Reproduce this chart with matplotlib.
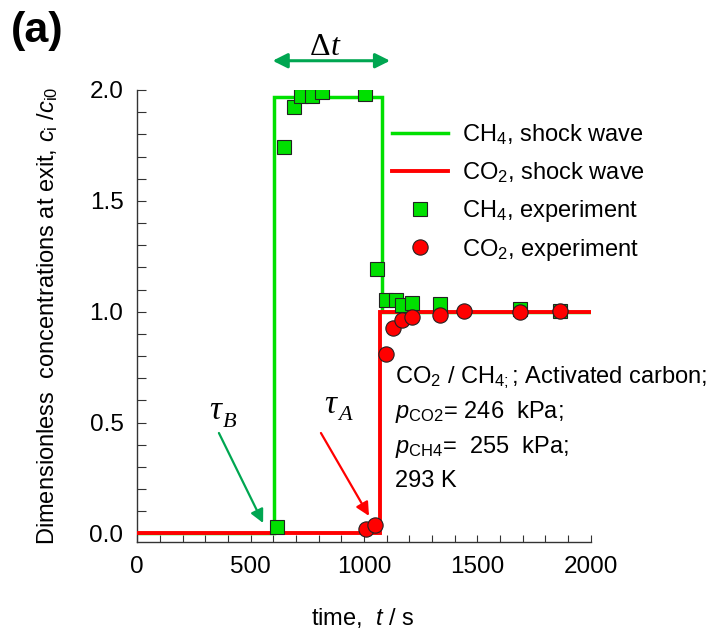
import matplotlib
matplotlib.use("Agg")
import matplotlib.pyplot as plt
from matplotlib.ticker import MultipleLocator

plt.rcParams['font.family'] = ['Liberation Sans', 'DejaVu Sans']
plt.rcParams['mathtext.fontset'] = 'custom'
plt.rcParams['mathtext.rm'] = 'Liberation Sans'
plt.rcParams['mathtext.it'] = 'Liberation Sans:italic'
plt.rcParams['mathtext.bf'] = 'Liberation Sans:bold'

# ---- data ----
ch4_sw_t = [0, 603, 603, 1078, 1078, 2000]
ch4_sw_y = [0.0, 0.0, 1.967, 1.967, 1.0, 1.0]
co2_sw_t = [0, 1072, 1072, 2000]
co2_sw_y = [0.0, 0.0, 1.0, 1.0]

ch4_exp_t = [615, 649, 693, 722, 772, 816, 1004, 1056, 1095, 1139, 1168, 1212, 1335, 1687, 1863]
ch4_exp_y = [0.028, 1.741, 1.922, 1.973, 1.973, 1.992, 1.982, 1.192, 1.052, 1.052, 1.029, 1.041, 1.037, 1.014, 1.002]
co2_exp_t = [1009, 1050, 1095, 1129, 1168, 1210, 1335, 1442, 1687, 1866]
co2_exp_y = [0.021, 0.036, 0.811, 0.927, 0.962, 0.977, 0.987, 1.002, 0.999, 1.002]

legend_labels = ['CH$_{4}$, shock wave', 'CO$_{2}$, shock wave',
                 'CH$_{4}$, experiment', 'CO$_{2}$, experiment']
info_lines = ['CO$_{2}$ / CH$_{4;}$; Activated carbon;',
              '$p_{\\mathrm{CO2}}$= 246  kPa;',
              '$p_{\\mathrm{CH4}}$=  255  kPa;',
              '293 K']

GREEN = '#00E000'
RED = '#FF0000'
DKGREEN = '#00A651'

W, H = 709, 633
fig = plt.figure(figsize=(W / 100, H / 100), dpi=100)
L, R, B, T = 137.3, 590.7, 542.3, 90.0
ax = fig.add_axes([L / W, 1 - B / H, (R - L) / W, (B - T) / H])

l1, = ax.plot(ch4_sw_t, ch4_sw_y, color=GREEN, lw=2.5, zorder=2, solid_joinstyle='miter')
l2, = ax.plot(co2_sw_t, co2_sw_y, color=RED, lw=2.8, zorder=3, solid_joinstyle='miter')
m1, = ax.plot(ch4_exp_t, ch4_exp_y, ls='none', marker='s', ms=9.5, mfc=GREEN,
              mec='#222222', mew=0.8, zorder=4)
m2, = ax.plot(co2_exp_t, co2_exp_y, ls='none', marker='o', ms=11, mfc=RED,
              mec='#222222', mew=0.8, zorder=5)

ax.set_xlim(0, 2000)
ax.set_ylim(-0.04, 2.0)
ax.spines['top'].set_visible(False)
ax.spines['right'].set_visible(False)
for s in ('left', 'bottom'):
    ax.spines[s].set_linewidth(1.0)
    ax.spines[s].set_color('#333333')

ax.xaxis.set_major_locator(MultipleLocator(500))
ax.xaxis.set_minor_locator(MultipleLocator(100))
ax.yaxis.set_major_locator(MultipleLocator(0.5))
ax.yaxis.set_minor_locator(MultipleLocator(0.1))
ax.set_yticks([0.0, 0.5, 1.0, 1.5, 2.0])
ax.set_yticklabels(['0.0', '0.5', '1.0', '1.5', '2.0'])
ax.tick_params(axis='x', which='both', direction='in', length=5, width=0.8,
               color='#333333', labelsize=17.5, pad=10)
ax.tick_params(axis='y', which='both', direction='in', length=6.5, width=0.8,
               color='#333333', labelsize=17.5, pad=10)

ax.set_xlabel('time,  $t$ / s', fontsize=17)
ax.xaxis.set_label_coords(0.498, (B - 618) / (B - T))
ax.xaxis.label.set_va('center')
ax.set_ylabel('Dimensionless  concentrations at exit, $c_{\\mathrm{i}}$ /$c_{\\mathrm{i0}}$', fontsize=17)
ax.yaxis.set_label_coords((48 - L) / (R - L), 0.5)
ax.yaxis.label.set_va('center')

leg = ax.legend([l1, l2, m1, m2], legend_labels, loc='upper left',
                bbox_to_anchor=(392 / W, 1 - 122 / H), bbox_transform=fig.transFigure,
                frameon=False, fontsize=17, handlelength=2.37, handletextpad=0.59,
                labelspacing=0.55, borderpad=0, borderaxespad=0, numpoints=1)

# info text
info_y = [0.679, 0.521, 0.363, 0.210]
for txt, yy in zip(info_lines, info_y):
    ax.text(1137, yy, txt, fontsize=17, ha='left', va='baseline')

# delta t arrow
ax.annotate('', xy=(597, 2.132), xytext=(1115, 2.132),
            arrowprops=dict(arrowstyle='<|-|>', color=DKGREEN, lw=2.2,
                            mutation_scale=22, shrinkA=0, shrinkB=0),
            annotation_clip=False)
ax.text(853, 2.19, '\u0394', fontsize=23, family='Liberation Serif',
        ha='right', va='center', clip_on=False)
ax.text(853, 2.19, 't', fontsize=23, family='Liberation Serif', style='italic',
        ha='left', va='center', clip_on=False)

# tau labels
ax.text(343, 0.555, '\u03c4', fontsize=24, family='Liberation Serif', style='italic',
        ha='center', va='center')
ax.text(406, 0.500, 'B', fontsize=16, family='Liberation Serif', style='italic',
        ha='center', va='center')
ax.text(852, 0.579, '\u03c4', fontsize=24, family='Liberation Serif', style='italic',
        ha='center', va='center')
ax.text(916, 0.530, 'A', fontsize=16, family='Liberation Serif', style='italic',
        ha='center', va='center')

ax.annotate('', xy=(555, 0.047), xytext=(360, 0.453),
            arrowprops=dict(arrowstyle='-|>', color=DKGREEN, lw=1.6,
                            mutation_scale=20, shrinkA=0, shrinkB=0))
ax.annotate('', xy=(1022, 0.079), xytext=(810, 0.453),
            arrowprops=dict(arrowstyle='-|>', color=RED, lw=1.6,
                            mutation_scale=20, shrinkA=0, shrinkB=0))

fig.text(11 / W, 1 - 31 / H, '(a)', fontsize=31, fontweight='bold', ha='left', va='center')

fig.savefig('out.png', dpi=100)
